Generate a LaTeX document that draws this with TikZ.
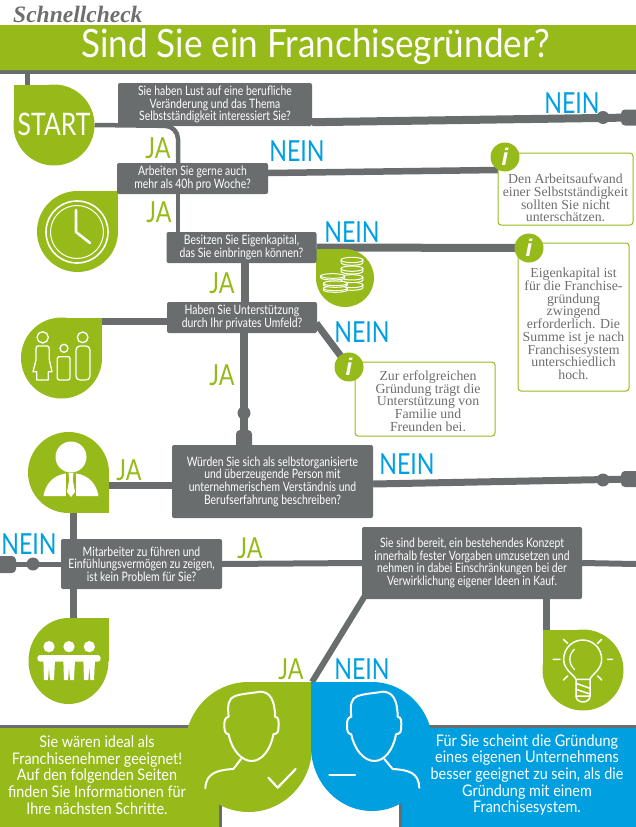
\documentclass[tikz,border=0pt]{standalone}
\usepackage{fontspec}
\usetikzlibrary{shapes.geometric,backgrounds}
\setmainfont{Liberation Serif}
\newfontfamily\condb[FakeStretch=0.8]{Lato}
\newfontfamily\condc[FakeStretch=0.9]{Lato}
\newfontfamily\infoserif{Liberation Serif}
\newfontfamily\infosans{Liberation Sans}
\definecolor{fgreen}{HTML}{95BA1A}
\definecolor{fblue}{HTML}{009FE0}
\definecolor{fgray}{HTML}{6A6D6E}
\definecolor{ftext}{HTML}{6E6E6E}
\tikzset{
  qbox/.style={fill=fgray,rounded corners=2pt,text=white,align=center,inner sep=0pt,
    font=\condb\fontsize{13}{12.7}\selectfont},
  dropnode/.style={circle,fill=#1,inner sep=0pt,outer sep=0pt},
  oval/.style={ellipse,fill=#1,inner sep=0pt,outer sep=0pt},
  conn/.style={draw=fgray,line width=#1},
  jalabel/.style={text=fgreen,inner sep=0pt,font=\condb\fontsize{29}{29}\selectfont},
  neinlabel/.style={text=fblue,inner sep=0pt,font=\condb\fontsize{29}{29}\selectfont},
  infobox/.style={draw=fgreen,line width=1pt,rounded corners=3pt,fill=white,inner sep=0pt},
  infotext/.style={text=ftext,align=center,inner sep=0pt,font=\infoserif\fontsize{13.8}{12.75}\selectfont},
  infoi/.style={circle,fill=fgreen,text=white,inner sep=0pt,minimum size=29pt,
    font=\infosans\bfseries\itshape\fontsize{24}{24}\selectfont},
  dot/.style={circle,fill=fgray,inner sep=0pt,minimum size=13pt},
  blob/.style={fill=fgray,rounded corners=4pt,inner sep=0pt},
  icon/.style={draw=white,line width=1.3pt,line join=round,line cap=round},
  endtext/.style={text=white,align=center,inner sep=0pt,font=\condc\fontsize{16}{16.6}\selectfont},
  zoomed/.style={x=0.3333pt,y=-0.3333pt},
}
\newcommand{\facehead}{%
  \draw[icon,line width=2pt] (146,125) .. controls (142,90) and (145,70) .. (165,63)
    .. controls (190,55) and (215,55) .. (240,50)
    .. controls (270,50) and (285,75) .. (285,125)
    .. controls (297,128) and (297,135) .. (295,165) .. controls (294,175) and (285,178) .. (280,178)
    .. controls (272,225) and (245,258) .. (215,258)
    .. controls (185,258) and (155,225) .. (146,178)
    .. controls (136,176) and (133,170) .. (133,150) .. controls (133,135) and (136,128) .. (146,125) -- cycle;
}
\newcommand{\coinstack}[5]{% centre x, radius, band height, y list
  \foreach \yy in {#4}{
    \draw[icon,fill=fgreen,line width=1pt] (#1-#2,\yy) -- (#1-#2,\yy+#3) arc[start angle=180,end angle=0,x radius=#2,y radius=#5] -- (#1+#2,\yy) -- cycle;
    \draw[icon,fill=fgreen,line width=1pt] (#1,\yy) ellipse ({#2} and {#5});
  }
}
\begin{document}
\begin{tikzpicture}[x=1pt,y=-1pt]
\useasboundingbox (0,0) rectangle (636,827);
\clip (0,0) rectangle (636,827);

% title
\node[anchor=base west,inner sep=0pt,text=ftext,font=\infoserif\bfseries\itshape\fontsize{23.5}{23.5}\selectfont] (brand) at (13,23) {Schnellcheck};
\fill[fgray] (0,30) rectangle (636,74);
\fill[fgreen,rounded corners=3pt] (-6,25) rectangle (642,70);
\node[anchor=center,inner sep=0pt,text=white,font=\condc\fontsize{39}{39}\selectfont] (title) at (316,47) {Sind Sie ein Franchisegründer?};
\coordinate (titlefoot) at (27,74);

% bottom banners
\fill[fgray] (0,725) rectangle (195,735);
\fill[fgray] (425,725) rectangle (636,735);
\fill[fgray] (219,795) rectangle (222,827);
\fill[fgray] (399,795) rectangle (402,827);
\fill[fgreen] (0,728) rectangle (219,827);
\fill[fblue] (402,728) rectangle (636,827);
\node[endtext] (end1) at (97,775) {Sie wären ideal als\\Franchisenehmer geeignet!\\Auf den folgenden Seiten\\finden Sie Informationen für\\Ihre nächsten Schritte.};
\node[endtext] (end2) at (527,775) {Für Sie scheint die Gründung\\eines eigenen Unternehmens\\besser geeignet zu sein, als die\\Gründung mit einem\\Franchisesystem.};

% start drop
\node[dropnode=fgreen,minimum size=81pt] (start) at (54,125) {};
\fill[fgreen] (13.5,84.5) rectangle (54,125);
\node[text=white,inner sep=0pt,font=\condb\fontsize{31}{31}\selectfont] (starttxt) at (54,124.5) {START};

% clock drop
\node[dropnode=fgreen,minimum size=81pt] (clock) at (77.5,231.5) {};
\fill[fgreen] (77.5,191) rectangle (118,231.5);
\draw[icon,line width=1.6pt] (77,232) circle (31);
\draw[icon,line width=1pt] (77,232) circle (26.5);
\draw[icon,line width=2.6pt] (76,210) -- (76,232) -- (90,243);

% family drop
\node[dropnode=fgreen,minimum size=81pt] (family) at (61.5,358) {};
\fill[fgreen] (61.5,317.5) rectangle (102,358);
\begin{scope}[shift={(15,310)},zoomed]
  \draw[icon] (83,82) circle (17);
  \draw[icon] (68,108) -- (96,108) .. controls (102,108) and (103,112) .. (103,120) -- (103,150) -- (111,185) -- (100,185) -- (100,210) -- (65,210) -- (65,185) -- (54,185) -- (63,150) -- (63,120) .. controls (63,112) and (64,108) .. (68,108) -- cycle;
  \draw[icon] (147,115) circle (12);
  \draw[icon,rounded corners=2pt] (127,140) rectangle (165,210);
  \draw[icon] (203,82) circle (16);
  \draw[icon,rounded corners=4pt] (183,108) rectangle (225,210);
\end{scope}

% manager drop
\node[dropnode=fgreen,minimum size=81pt] (manager) at (68.5,472.5) {};
\fill[fgreen] (68.5,472.5) rectangle (109,513);
\fill[white] (71,457) circle (15.5);
\fill[white] (43.5,496) .. controls (46,480) and (58,473) .. (71,473) .. controls (84,473) and (96,480) .. (98.5,496) -- cycle;
\fill[fgreen] (66,473) -- (76,473) -- (76,497) -- (66,497) -- cycle;
\fill[white] (68.5,473) -- (73.5,473) -- (72.8,480) -- (75,492) -- (71,497) -- (67,492) -- (69.2,480) -- cycle;

% team drop
\node[oval=fgreen,minimum width=80pt,minimum height=86pt] (team) at (68.5,661) {};
\fill[fgreen] (68.5,618) rectangle (108.5,661);
\begin{scope}[shift={(20,610)},zoomed]
  \fill[white] (87,110) circle (17) (147,110) circle (17) (208,110) circle (17);
  \fill[white,rounded corners=3pt] (52,135) rectangle (242,155);
  \fill[white] (70,150) -- (105,150) -- (102,210) -- (72,210) -- cycle;
  \fill[white] (130,150) -- (165,150) -- (162,210) -- (132,210) -- cycle;
  \fill[white] (190,150) -- (225,150) -- (222,210) -- (192,210) -- cycle;
  \fill[fgreen] (84,212) -- (87,175) -- (90,212) -- cycle;
  \fill[fgreen] (144,212) -- (147,175) -- (150,212) -- cycle;
  \fill[fgreen] (205,212) -- (208,175) -- (211,212) -- cycle;
\end{scope}

% coin drop
\node[dropnode=fgreen,minimum size=58pt] (coins) at (345,278) {};
\fill[fgreen] (316,249) rectangle (345,278);
\begin{scope}[shift={(316,70)},zoomed]
  \coinstack{108}{33}{8}{645,622,596,570}{8}
  \coinstack{58}{36}{5}{655,640}{7}
  \coinstack{50}{36}{5}{618}{7}
\end{scope}

% bulb drop
\node[dropnode=fgreen,minimum size=81pt] (bulb) at (583,670) {};
\fill[fgreen] (542.5,629.5) rectangle (583,670);
\begin{scope}[shift={(535,620)},zoomed]
  \draw[icon,line width=1.5pt] (123,178) .. controls (118,165) and (86,150) .. (86,118) .. controls (86,85) and (112,60) .. (143,60) .. controls (174,60) and (200,85) .. (200,118) .. controls (200,150) and (168,165) .. (165,178) -- cycle;
  \draw[icon,line width=1.5pt] (123,178) -- (123,228) .. controls (123,252) and (165,252) .. (165,228) -- (165,178);
  \draw[icon,line width=1.5pt] (123,190) -- (165,205) (123,208) -- (165,222) (123,228) -- (165,228);
  \draw[icon,line width=1.3pt] (118,88) .. controls (100,105) and (100,130) .. (118,148);
  \draw[icon,line width=1.6pt] (85,58) -- (98,70) (200,58) -- (188,70) (55,118) -- (75,118) (218,118) -- (232,118) (85,180) -- (98,168) (200,180) -- (188,168);
\end{scope}

% question boxes
\node[qbox,minimum width=194pt,minimum height=43pt] (q1) at (215,104.5) {Sie haben Lust auf eine berufliche\\Veränderung und das Thema\\Selbstständigkeit interessiert Sie?};
\node[qbox,minimum width=151pt,minimum height=31pt] (q2) at (192.5,178.5) {Arbeiten Sie gerne auch\\mehr als 40h pro Woche?};
\node[qbox,minimum width=150pt,minimum height=31pt] (q3) at (241.5,247.5) {Besitzen Sie Eigenkapital,\\das Sie einbringen können?};
\node[qbox,minimum width=150pt,minimum height=31pt] (q4) at (242,317.5) {Haben Sie Unterstützung\\durch Ihr privates Umfeld?};
\node[qbox,minimum width=201pt,minimum height=73pt] (q5) at (272.5,481.5) {Würden Sie sich als selbstorganisierte\\und überzeugende Person mit\\unternehmerischem Verständnis und\\Berufserfahrung beschreiben?};
\node[qbox,minimum width=161pt,minimum height=50pt] (q6) at (141.5,564) {Mitarbeiter zu führen und\\Einfühlungsvermögen zu zeigen,\\ist kein Problem für Sie?};
\node[qbox,minimum width=220pt,minimum height=72pt] (q7) at (472,563) {Sie sind bereit, ein bestehendes Konzept\\innerhalb fester Vorgaben umzusetzen und\\nehmen in dabei Einschränkungen bei der\\Verwirklichung eigener Ideen in Kauf.};

% info boxes
\node[infobox,minimum width=135pt,minimum height=72pt] (b1) at (565.5,189) {};
\node[infotext] (b1t) at (565.5,198) {Den Arbeitsaufwand\\einer Selbstständigkeit\\sollten Sie nicht\\unterschätzen.};
\node[infoi] (i1) at (505,157) {i};
\node[infobox,minimum width=111pt,minimum height=148pt] (b2) at (573.5,317) {};
\node[infotext] (b2t) at (573.5,324) {Eigenkapital ist\\für die Franchise-\\gründung\\zwingend\\erforderlich. Die\\Summe ist je nach\\Franchisesystem\\unterschiedlich\\hoch.};
\node[infoi] (i2) at (529,248) {i};
\node[infobox,minimum width=140pt,minimum height=74pt] (b3) at (425,399) {};
\node[infotext] (b3t) at (428,401) {Zur erfolgreichen\\Gründung trägt die\\Unterstützung von\\Familie und\\Freunden bei.};
\node[infoi] (i3) at (349,367) {i};

% outcome drops
\node[oval=fgreen,minimum width=127pt,minimum height=130pt] (yes) at (248.5,747) {};
\fill[fgreen] (248.5,682) rectangle (312,747);
\node[oval=fblue,minimum width=122pt,minimum height=129pt] (no) at (372,746.5) {};
\fill[fblue] (311,682) rectangle (372,746.5);
\begin{scope}[shift={(180,675)},zoomed]
  \facehead
  \draw[icon,line width=2pt] (183,252) -- (160,282) .. controls (110,285) and (78,295) .. (76,340);
  \draw[icon,line width=2.2pt] (265,308) -- (293,338) -- (347,282);
  \begin{scope}[shift={(368,0)}]
    \facehead
  \end{scope}
  \draw[icon,line width=2pt] (613,252) -- (638,282) .. controls (690,285) and (716,295) .. (718,338);
  \draw[icon,line width=2.2pt] (448,300) -- (525,300);
\end{scope}

% terminal markers
\node[dot] (d1) at (603,117.5) {};
\node[blob,minimum width=24pt,minimum height=16pt] (e1) at (633,117.5) {};
\node[dot] (d5) at (603,480) {};
\node[blob,minimum width=24pt,minimum height=16pt] (e5) at (633,479) {};
\node[dot] (d6) at (33,564) {};
\node[blob,minimum width=24pt,minimum height=17pt] (e6) at (4,564.5) {};
\node[dot] (d4) at (244,413) {};
\node[blob,minimum width=16pt,minimum height=20pt] (e4) at (244,440) {};

% free corners of connectors
\coordinate (c1) at (178,126);
\coordinate (c2) at (178,163);
\coordinate (c3) at (178,232);
\coordinate (c4) at (245,263);
\coordinate (c5) at (245,302);
\coordinate (c6) at (244,333);
\coordinate (c7) at (73,539);
\coordinate (c8) at (73,513);
\coordinate (c9) at (73,589);
\coordinate (c10) at (73,618);
\coordinate (c11) at (546,599);
\coordinate (c12) at (546,630);
\coordinate (c13) at (312,682);
\coordinate (c14) at (366,594);
\coordinate (c15) at (27,85);
\coordinate (c16) at (178,194);
\coordinate (c17) at (498,170);
\coordinate (c18) at (636,564);
\coordinate (c19) at (0,564);
\coordinate (c20) at (100,321);

\begin{scope}[on background layer]
  \draw[conn=5pt] (titlefoot) -- (c15);
  \draw[conn=4.5pt,rounded corners=13pt] (start.east) -- (c1) -- (c2);
  \draw[conn=8pt] ([yshift=4pt]q1.south east) -- (e1.center);
  \draw[conn=4.5pt] (c16) -- (c3);
  \draw[conn=6.5pt] ([yshift=5.5pt]q2.east) -- (c17);
  \draw[conn=8pt] (q3.east) -- (i2.center);
  \draw[conn=8pt] (c4) -- (c5);
  \draw[conn=7pt] (c20) -- (c20 -| q4.west);
  \draw[conn=8pt] (c6) -- (e4.center);
  \draw[conn=7pt] ([yshift=10pt,xshift=-1pt]q4.south east) -- (i3.center);
  \draw[conn=7pt] (manager.center |- 0,485) -- (q5.west |- 0,485);
  \draw[conn=7pt] ([yshift=-2.5pt]q5.east) -- (e5.center);
  \draw[conn=7pt] (c8) -- (c7);
  \draw[conn=7pt] (c9) -- (c10);
  \draw[conn=5pt] (c19) -- (q6.west);
  \draw[conn=6pt] (q6.east) -- (q7.west);
  \draw[conn=6pt] (q7.east) -- (c18);
  \draw[conn=7pt] (c11) -- (c12);
  \draw[conn=6pt] (c14) -- (c13);
\end{scope}

% yes/no labels
\node[jalabel] (ja1) at (158,148.5) {JA};
\node[jalabel] (ja2) at (159,212) {JA};
\node[jalabel] (ja3) at (222,283) {JA};
\node[jalabel] (ja4) at (222,375) {JA};
\node[jalabel] (ja5) at (129,470) {JA};
\node[jalabel] (ja6) at (250,548) {JA};
\node[jalabel] (ja7) at (291,669) {JA};
\node[neinlabel] (n1) at (572,103) {NEIN};
\node[neinlabel] (n2) at (297,151) {NEIN};
\node[neinlabel] (n3) at (352,232) {NEIN};
\node[neinlabel] (n4) at (362,332) {NEIN};
\node[neinlabel] (n5) at (407,464) {NEIN};
\node[neinlabel] (n6) at (29,544) {NEIN};
\node[neinlabel] (n7) at (362,669) {NEIN};
\end{tikzpicture}
\end{document}
